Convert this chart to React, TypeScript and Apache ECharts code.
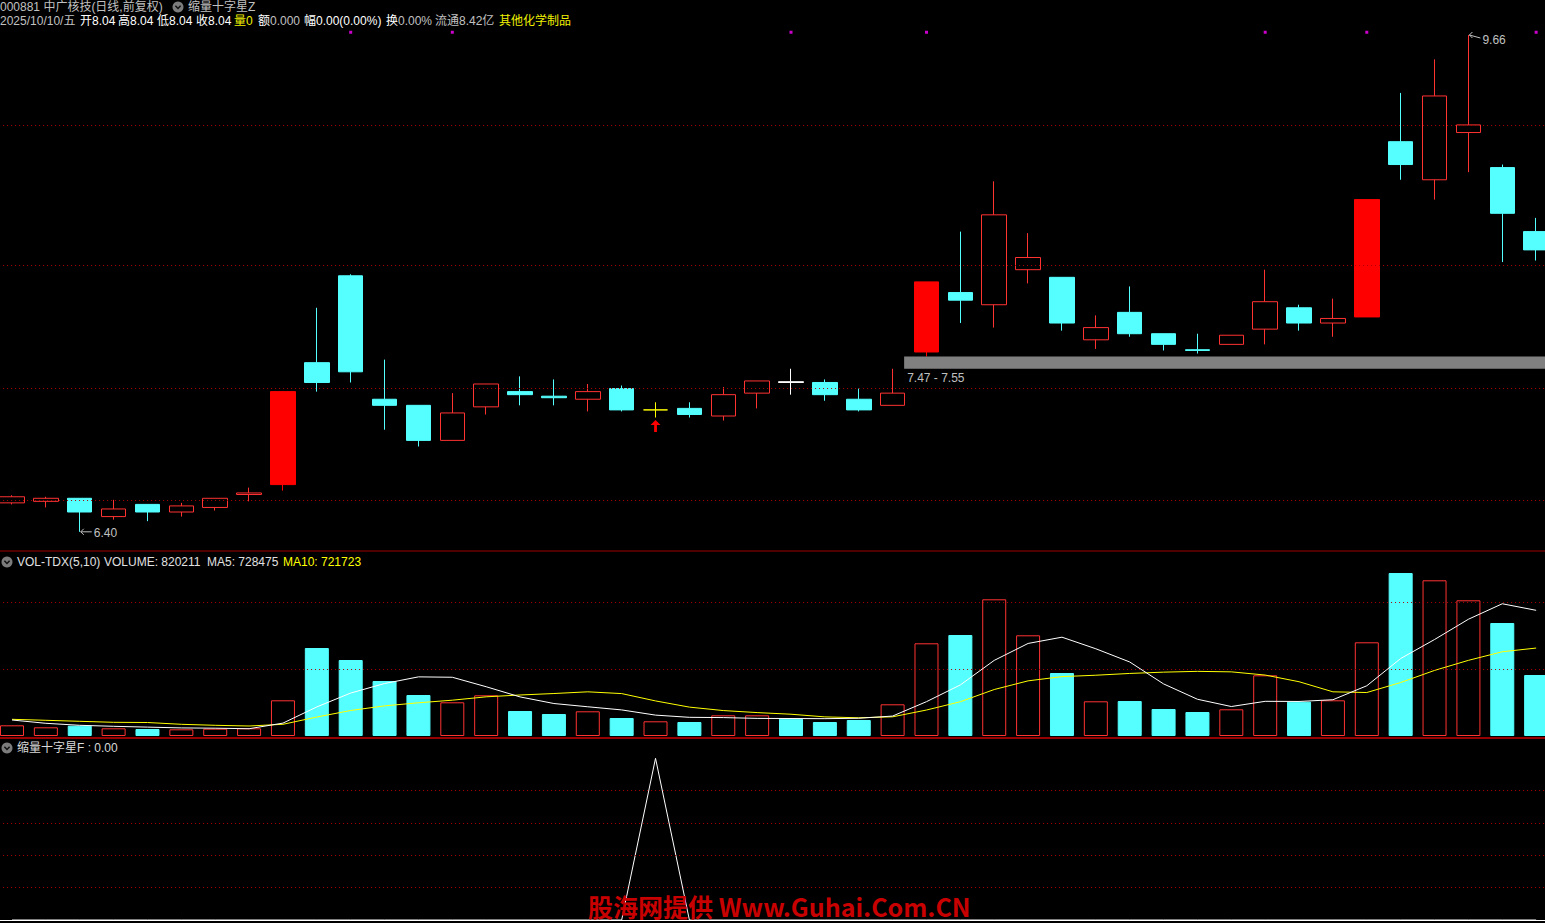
import React, { useEffect, useRef } from "react";
import * as echarts from "echarts";

// ---------- data ----------
// [open, close, low, high]
const candles: number[][] = [
  [6.59, 6.63, 6.58, 6.64],
  [6.6, 6.62, 6.56, 6.63],
  [6.62, 6.53, 6.4, 6.62],
  [6.5, 6.55, 6.48, 6.61],
  [6.58, 6.53, 6.47, 6.58],
  [6.53, 6.57, 6.5, 6.59],
  [6.56, 6.62, 6.54, 6.62],
  [6.645, 6.655, 6.6, 6.69],
  [6.71, 7.32, 6.67, 7.32],
  [7.51, 7.38, 7.32, 7.87],
  [8.08, 7.45, 7.38, 8.09],
  [7.27, 7.23, 7.07, 7.53],
  [7.23, 7.0, 6.96, 7.23],
  [7.0, 7.18, 7.0, 7.31],
  [7.22, 7.37, 7.17, 7.37],
  [7.32, 7.3, 7.23, 7.42],
  [7.29, 7.28, 7.23, 7.4],
  [7.27, 7.32, 7.19, 7.37],
  [7.34, 7.2, 7.19, 7.36],
  [7.2, 7.2, 7.15, 7.25],
  [7.21, 7.17, 7.15, 7.25],
  [7.16, 7.3, 7.13, 7.35],
  [7.31, 7.39, 7.21, 7.39],
  [7.385, 7.38, 7.3, 7.47],
  [7.38, 7.3, 7.26, 7.4],
  [7.27, 7.2, 7.19, 7.34],
  [7.23, 7.31, 7.23, 7.47],
  [7.58, 8.04, 7.55, 8.04],
  [7.97, 7.92, 7.77, 8.37],
  [7.89, 8.48, 7.74, 8.7],
  [8.12, 8.2, 8.03, 8.36],
  [8.07, 7.77, 7.72, 8.07],
  [7.66, 7.74, 7.6, 7.82],
  [7.84, 7.7, 7.68, 8.01],
  [7.7, 7.63, 7.59, 7.7],
  [7.595, 7.59, 7.57, 7.7],
  [7.63, 7.69, 7.63, 7.69],
  [7.73, 7.91, 7.63, 8.12],
  [7.87, 7.77, 7.72, 7.89],
  [7.77, 7.8, 7.68, 7.93],
  [7.81, 8.58, 7.81, 8.58],
  [8.96, 8.81, 8.71, 9.28],
  [8.71, 9.26, 8.58, 9.5],
  [9.02, 9.07, 8.76, 9.66],
  [8.79, 8.49, 8.17, 8.81],
  [8.37, 8.25, 8.18, 8.46],
];

const volumes = [
  160500, 130500, 154500, 115500, 105000, 100500, 109500, 115500, 535500, 1320000,
  1140000, 825000, 615000, 505500, 610500, 375000, 330000, 370500, 270000, 220500,
  210000, 310500, 310500, 259500, 210000, 240000, 475500, 1390500, 1515000, 2050500,
  1510500, 945000, 520500, 525000, 405000, 360000, 400500, 910500, 514500, 535500,
  1405500, 2445000, 2335500, 2035500, 1695000, 915000,
];

const volMa5 = [
  240000, 190500, 160500, 145500, 133200, 121200, 117000, 109200, 193200, 436200,
  644100, 787200, 887100, 881100, 739200, 586200, 487200, 438300, 391200, 313200,
  280200, 276300, 264300, 262200, 260100, 266100, 299100, 515100, 766200, 1134300,
  1388400, 1482300, 1308300, 1110300, 781200, 551100, 442200, 520200, 518100, 544200,
  753300, 1162200, 1447200, 1751400, 1983300, 1885200,
];

const volMa10 = [
  250500, 235500, 220500, 205500, 202500, 175500, 160500, 150000, 175500, 284700,
  382650, 452100, 498150, 537150, 587700, 615150, 637200, 662700, 636150, 526200,
  433200, 381750, 351300, 326700, 286650, 273150, 287700, 389700, 514200, 697200,
  827250, 890700, 911700, 938250, 957750, 969750, 962250, 914250, 814200, 662700,
  652200, 802200, 983700, 1134750, 1263750, 1319250,
];

const crossStarF = [
  0, 0, 0, 0, 0, 0, 0, 0, 0, 0, 0, 0, 0, 0, 0, 0, 0, 0, 0, 1, 0, 0, 0,
  0, 0, 0, 0, 0, 0, 0, 0, 0, 0, 0, 0, 0, 0, 0, 0, 0, 0, 0, 0, 0, 0, 0,
];

const dayLabels = candles.map((_, i) => `D${i + 1}`);
const infoMarkDays = [10, 13, 23, 27, 37, 40, 45];
const filledUpDays = [8, 27, 40];
const dojiColors: Record<number, string> = { 19: "#FFFF00", 23: "#FFFFFF" };
const lowMark = { day: 2, text: "6.40" };
const highMark = { day: 43, text: "9.66" };
const signalDay = 19;
const zone = { low: 7.47, high: 7.55, startDay: 26, text: "7.47 - 7.55" };
const priceGridLevels = [9.07, 8.15, 7.34, 6.61];
const volGridLevels = [1000000, 2000000];
const sigGridLevels = [0.2, 0.4, 0.6, 0.8];

// ---------- styles ----------
const RED = "#FF3232";
const RED_FILL = "#FF0000";
const CYAN = "#55FFFF";
const GRID_RED = "#B00000";
const GRAY = "#C0C0C0";
const WHITE = "#FFFFFF";
const YELLOW = "#FFFF00";
const FONT = "'Liberation Sans', 'Noto Sans CJK SC', sans-serif";

const GRID_LEFT = -4.935;
const GRID_WIDTH = 1558.02;

function txt(x: number, y: number, text: string, fill: string, size = 12, weight = "normal", family = FONT) {
  return {
    type: "text",
    x,
    y,
    silent: true,
    z: 100,
    style: { text, fill, fontSize: size, fontFamily: family, fontWeight: weight, verticalAlign: "middle", align: "left" },
  };
}

function icon(x: number, y: number) {
  return [
    { type: "circle", silent: true, z: 100, shape: { cx: x, cy: y, r: 5.5 }, style: { fill: "#7C7C7C" } },
    {
      type: "polyline",
      silent: true,
      z: 101,
      shape: { points: [[x - 2.6, y - 1.2], [x, y + 1.5], [x + 2.6, y - 1.2]] },
      style: { stroke: "#111", lineWidth: 1.5, fill: null },
    },
  ];
}

function dotted(levels: number[]) {
  return {
    silent: true,
    symbol: ["none", "none"],
    label: { show: false },
    emphasis: { disabled: true },
    lineStyle: { color: GRID_RED, type: [1, 3], width: 1 },
    data: levels.map((v) => ({ yAxis: v })),
  };
}

export default function App() {
  const ref = useRef<HTMLDivElement>(null);

  useEffect(() => {
    if (!ref.current) return;
    const chart = echarts.init(ref.current, undefined, { renderer: "svg" });

    const candleData = candles.map((c, i) => {
      const item: any = { value: c };
      if (filledUpDays.includes(i)) {
        item.itemStyle = { color: RED_FILL, borderColor: RED_FILL, color0: RED_FILL, borderColor0: RED_FILL };
      }
      if (dojiColors[i]) {
        const col = dojiColors[i];
        item.itemStyle = { color: col, color0: col, borderColor: col, borderColor0: col, borderColorDoji: col };
      }
      return item;
    });

    const volData = volumes.map((v, i) => {
      const up = candles[i][1] >= candles[i][0];
      return {
        value: v,
        itemStyle: up
          ? { color: "#000000", borderColor: RED, borderWidth: 1 }
          : { color: CYAN, borderColor: CYAN, borderWidth: 1 },
      };
    });

    const xAxisBase = {
      type: "category",
      data: dayLabels,
      boundaryGap: true,
      axisLabel: { show: false },
      axisTick: { show: false },
      splitLine: { show: false },
    };

    const gridBase = { left: GRID_LEFT, width: GRID_WIDTH, outerBoundsMode: "none", containLabel: false };

    chart.setOption({
      animation: false,
      backgroundColor: "#000000",
      grid: [
        { ...gridBase, top: 1.472, height: 545.592 },
        { ...gridBase, top: 556, height: 180 },
        { ...gridBase, top: 758.3, height: 161.7 },
      ],
      xAxis: [
        { ...xAxisBase, gridIndex: 0, axisLine: { show: false } },
        { ...xAxisBase, gridIndex: 1, axisLine: { show: false } },
        { ...xAxisBase, gridIndex: 2, axisLine: { show: true, lineStyle: { color: WHITE, width: 1 } } },
      ],
      yAxis: [
        { type: "value", gridIndex: 0, min: 6.3, max: 9.88, show: false, splitLine: { show: false } },
        { type: "value", gridIndex: 1, min: 0, max: 2700000, show: false, splitLine: { show: false } },
        { type: "value", gridIndex: 2, min: 0, max: 1, show: false, splitLine: { show: false } },
      ],
      series: [
        {
          type: "candlestick",
          xAxisIndex: 0,
          yAxisIndex: 0,
          barWidth: 25,
          data: candleData,
          itemStyle: {
            color: "#000000",
            color0: CYAN,
            borderColor: RED,
            borderColor0: CYAN,
            borderColorDoji: RED,
            borderWidth: 1,
          },
          markLine: dotted(priceGridLevels),
          z: 3,
        },
        {
          type: "scatter",
          xAxisIndex: 0,
          yAxisIndex: 0,
          symbol: "rect",
          symbolSize: 3,
          itemStyle: { color: "#FF00FF" },
          data: infoMarkDays.map((d) => [d, 9.678]),
          silent: true,
        },
        {
          type: "bar",
          xAxisIndex: 1,
          yAxisIndex: 1,
          barWidth: 24,
          data: volData,
          markLine: dotted(volGridLevels),
        },
        {
          type: "line",
          xAxisIndex: 1,
          yAxisIndex: 1,
          data: volMa5,
          symbol: "none",
          lineStyle: { color: WHITE, width: 1 },
          z: 5,
        },
        {
          type: "line",
          xAxisIndex: 1,
          yAxisIndex: 1,
          data: volMa10,
          symbol: "none",
          lineStyle: { color: YELLOW, width: 1 },
          z: 4,
        },
        {
          type: "line",
          xAxisIndex: 2,
          yAxisIndex: 2,
          data: crossStarF,
          symbol: "none",
          lineStyle: { color: WHITE, width: 1 },
          markLine: dotted(sigGridLevels),
        },
      ],
    });

    const px = (d: number, v: number) => chart.convertToPixel({ gridIndex: 0 }, [d, v]) as number[];

    // zone band
    const z0 = px(zone.startDay, zone.high);
    const z1 = px(zone.startDay + 1, zone.low);
    const zx = z0[0] + 0.34 * (z1[0] - z0[0]);
    const zTop = z0[1];
    const zBot = z1[1];

    // low / high marks
    const [lx, ly] = px(lowMark.day, candles[lowMark.day][2]);
    const [hx, hy] = px(highMark.day, candles[highMark.day][3]);
    // signal arrow
    const [ax, ay] = px(signalDay, candles[signalDay][2]);
    const at = ay + 2.5;

    const markArrow = (x: number, y: number, dy: number) => [
      {
        type: "polyline",
        silent: true,
        z: 100,
        shape: { points: [[x + 4, y - 3], [x + 1, y], [x + 4, y + 3]] },
        style: { stroke: GRAY, lineWidth: 1, fill: null },
      },
      {
        type: "line",
        silent: true,
        z: 100,
        shape: { x1: x + 1, y1: y, x2: x + 12, y2: y + dy },
        style: { stroke: GRAY, lineWidth: 1 },
      },
    ];

    const graphics: any[] = [
      // header line 1
      txt(0, 7, "000881 中广核技(日线,前复权)", GRAY),
      ...icon(178, 7),
      txt(188, 7, "缩量十字星Z", GRAY),
      // header line 2
      txt(0, 21, "2025/10/10/五", GRAY),
      txt(80, 21, "开8.04", WHITE),
      txt(118, 21, "高8.04", WHITE),
      txt(157, 21, "低8.04", WHITE),
      txt(196, 21, "收8.04", WHITE),
      txt(234, 21, "量0", "#F0F000"),
      txt(258, 21, "额", WHITE),
      txt(270, 21, "0.000", GRAY),
      txt(304, 21, "幅0.00(0.00%)", WHITE),
      txt(386, 21, "换", WHITE),
      txt(398, 21, "0.00%", GRAY),
      txt(435, 21, "流通8.42亿", GRAY),
      txt(499, 21, "其他化学制品", "#F0F000"),
      // separators
      { type: "line", silent: true, z: 90, shape: { x1: 0, y1: 551, x2: 1545, y2: 551 }, style: { stroke: "#A00000", lineWidth: 1 } },
      { type: "line", silent: true, z: 90, shape: { x1: 0, y1: 738, x2: 1545, y2: 738 }, style: { stroke: "#C80000", lineWidth: 1.5 } },
      // volume header
      ...icon(7, 562),
      txt(17, 562, "VOL-TDX(5,10)", "#E0E0E0"),
      txt(104, 562, "VOLUME: 820211", "#E0E0E0"),
      txt(207, 562, "MA5: 728475", "#E0E0E0"),
      txt(283, 562, "MA10: 721723", YELLOW),
      // indicator header
      ...icon(7, 748),
      txt(17, 748, "缩量十字星F : 0.00", "#D8D8D8"),
      // zone band
      {
        type: "rect",
        silent: true,
        z: 50,
        shape: { x: zx, y: zTop, width: 1560 - zx, height: zBot - zTop },
        style: { fill: "#808080" },
      },
      txt(zx + 3, zBot + 9.5, zone.text, GRAY),
      // low / high marks
      ...markArrow(lx, ly, 0),
      txt(lx + 14, ly + 1, lowMark.text, GRAY),
      ...markArrow(hx, hy, 3),
      txt(hx + 14, hy + 4.5, highMark.text, GRAY),
      // red up arrow
      {
        type: "polygon",
        silent: true,
        z: 100,
        shape: {
          points: [
            [ax, at],
            [ax + 5, at + 5],
            [ax + 1.4, at + 5],
            [ax + 1.4, at + 12],
            [ax - 1.4, at + 12],
            [ax - 1.4, at + 5],
            [ax - 5, at + 5],
          ],
        },
        style: { fill: "#FF0000" },
      },
      // watermark
      txt(588, 905.5, "股海网提供 Www.Guhai.Com.CN", "#C80000", 25, "bold", "'Noto Sans CJK SC', sans-serif"),
    ];

    chart.setOption({ graphic: graphics });

    return () => chart.dispose();
  }, []);

  return (
    <div
      ref={ref}
      style={{ position: "absolute", left: 0, top: 0, width: 1545, height: 923, background: "#000" }}
    />
  );
}
